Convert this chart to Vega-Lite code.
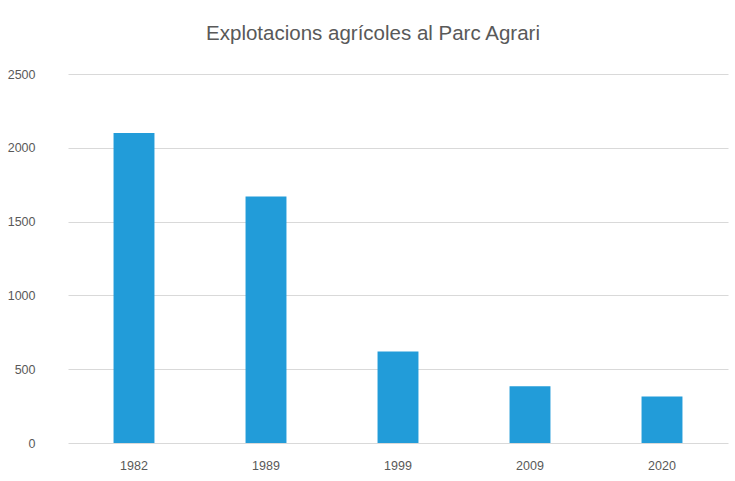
{
  "$schema": "https://vega.github.io/schema/vega-lite/v6.json",
  "autosize": {"type": "none"},
  "width": 660,
  "height": 369,
  "padding": {"left": 68, "top": 74, "right": 7, "bottom": 38},
  "background": "#ffffff",
  "title": {
    "text": "Explotacions agrícoles al Parc Agrari",
    "font": "Liberation Sans",
    "fontSize": 20.5,
    "fontWeight": "normal",
    "color": "#595959",
    "anchor": "middle",
    "offset": 24,
    "dx": -25
  },
  "data": {
    "values": [
      {"year": "1982", "value": 2100},
      {"year": "1989", "value": 1670},
      {"year": "1999", "value": 620},
      {"year": "2009", "value": 385},
      {"year": "2020", "value": 315}
    ]
  },
  "mark": {"type": "bar", "color": "#229cd9"},
  "encoding": {
    "x": {
      "field": "year",
      "type": "nominal",
      "sort": null,
      "scale": {"paddingInner": 0.69, "paddingOuter": 0.345},
      "axis": {
        "title": null,
        "labelAngle": 0,
        "ticks": false,
        "domain": false,
        "labelPadding": 16,
        "labelFont": "Liberation Sans",
        "labelFontSize": 12.5,
        "labelColor": "#595959"
      }
    },
    "y": {
      "field": "value",
      "type": "quantitative",
      "scale": {"domain": [0, 2500]},
      "axis": {
        "title": null,
        "values": [0, 500, 1000, 1500, 2000, 2500],
        "format": "d",
        "ticks": false,
        "domain": false,
        "labelPadding": 33,
        "labelFont": "Liberation Sans",
        "labelFontSize": 12.5,
        "labelColor": "#595959",
        "gridColor": "#d9d9d9",
        "gridWidth": 1
      }
    }
  },
  "config": {"view": {"stroke": null}}
}
